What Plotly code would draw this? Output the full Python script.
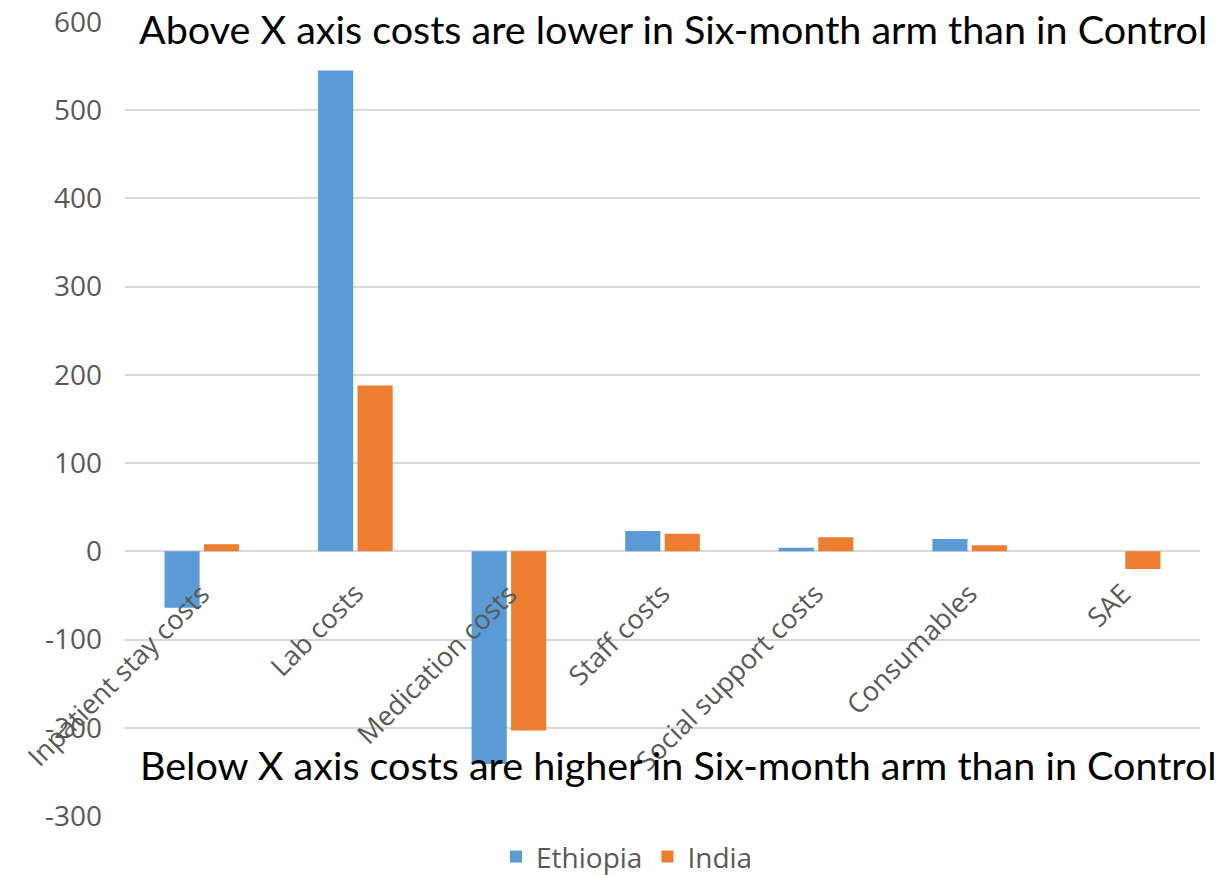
import plotly.graph_objects as go

categories = ["Inpatient stay costs", "Lab costs", "Medication costs", "Staff costs",
              "Social support costs", "Consumables", "SAE"]
ethiopia = [-64, 545, -241, 23, 4, 14, 0]
india = [8, 188, -203, 20, 16, 7, -20]
y_ticks = [-300, -200, -100, 0, 100, 200, 300, 400, 500, 600]
y_tick_text = ["-300", "-200", "-100", "0", "100", "200", "300", "400", "500", "600"]

BLUE = "#5B9BD5"
ORANGE = "#ED7D31"
GRAY = "#595959"
GRID = "#D9D9D9"
FONT = "Open Sans"
NOTE_FONT = "Lato"

fig = go.Figure()
fig.add_trace(go.Bar(name="Ethiopia", x=categories, y=ethiopia, marker_color=BLUE,
                     marker_line_width=0))
fig.add_trace(go.Bar(name="India", x=categories, y=india, marker_color=ORANGE,
                     marker_line_width=0))

annotations = []
# Category labels sit on the zero line, rotated, ending near each category centre
for c in categories:
    annotations.append(dict(
        x=c, y=0, xref="x", yref="y", text=c, showarrow=False,
        textangle=-45, xanchor="right", yanchor="top",
        xshift=18, yshift=-21,
        font=dict(family=FONT, size=27, color=GRAY),
    ))

annotations.append(dict(
    x=0.51, y=593, xref="paper", yref="y", xanchor="center", yanchor="middle",
    text="Above X axis costs are lower in Six-month arm than in Control",
    showarrow=False, font=dict(family=NOTE_FONT, size=39.5, color="black"),
))
annotations.append(dict(
    x=0.515, y=-242, xref="paper", yref="y", xanchor="center", yanchor="middle",
    text="Below X axis costs are higher in Six-month arm than in Control",
    showarrow=False, font=dict(family=NOTE_FONT, size=39.5, color="black"),
))

fig.update_layout(
    width=1229, height=875,
    margin=dict(l=125, r=29, t=22, b=59, autoexpand=False),
    plot_bgcolor="white", paper_bgcolor="white",
    barmode="group", bargap=0.486, bargroupgap=0.11,
    showlegend=True,
    legend=dict(orientation="h", x=0.467, xanchor="center", y=-0.02, yanchor="top",
                font=dict(family=FONT, size=28, color=GRAY), itemwidth=30,
                traceorder="normal"),
    xaxis=dict(range=[-0.5, len(categories) - 0.5], showticklabels=False,
               showgrid=False, zeroline=False, showline=False, ticks=""),
    yaxis=dict(range=[-300, 600], tickvals=y_ticks, ticktext=y_tick_text,
               showgrid=True, gridcolor=GRID,
               gridwidth=1.5, zeroline=True, zerolinecolor=GRID, zerolinewidth=2,
               showline=False, ticks="", ticklen=0, ticklabelstandoff=22,
               tickfont=dict(family=FONT, size=28, color=GRAY)),
    annotations=annotations,
)

fig.write_html("out.html")
